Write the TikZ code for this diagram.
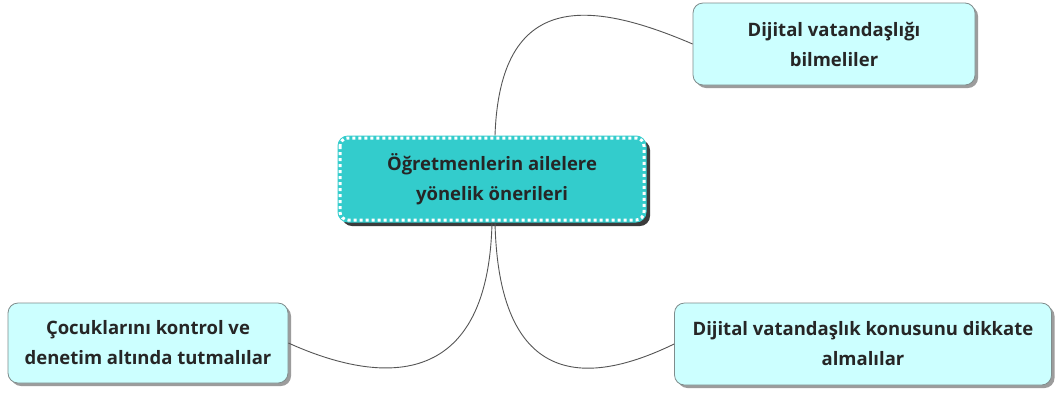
\documentclass[tikz,border=0pt]{standalone}
\usepackage{fontspec}
\setmainfont{Open Sans}
\usetikzlibrary{shadows}
\definecolor{teal1}{HTML}{33CCCC}
\definecolor{lightc}{HTML}{CCFFFF}
\definecolor{bordg}{HTML}{7F8C8C}
\definecolor{linkg}{HTML}{555555}
\tikzset{
  leafbox/.style={rectangle, rounded corners=10pt, fill=lightc, draw=bordg, line width=0.8pt,
    align=center, font=\fontsize{18.5}{30}\selectfont\bfseries, text=black!85,
    drop shadow={shadow xshift=3pt, shadow yshift=-3pt, fill=black!55, opacity=0.7}},
  centerbox/.style={rectangle, rounded corners=10pt, fill=teal1, draw=teal1, line width=1pt,
    align=center, font=\fontsize{18.5}{30}\selectfont\bfseries, text=black!85,
    drop shadow={shadow xshift=4pt, shadow yshift=-4pt, fill=black!85, opacity=0.9}},
  dotrim/.style={draw=white, line width=3pt, dash pattern=on 3pt off 3pt, rounded corners=8pt},
  link/.style={draw=linkg, line width=0.9pt}
}
\begin{document}
\begin{tikzpicture}[x=1pt,y=-1pt]
\useasboundingbox (0,0) rectangle (1059,392);
\fill[white] (0,0) rectangle (1059,392);
\node[centerbox, minimum width=308pt, minimum height=86pt] (c) at (492,179) {Öğretmenlerin ailelere\\yönelik önerileri};
\draw[dotrim] ([shift={(2.5,2.5)}]c.north west) rectangle ([shift={(-2.5,-2.5)}]c.south east);
\node[leafbox, minimum width=282pt, minimum height=82pt] (tr) at (834,44) {Dijital vatandaşlığı\\bilmeliler};
\node[leafbox, minimum width=280pt, minimum height=80pt] (bl) at (148,343) {Çocuklarını kontrol ve\\denetim altında tutmalılar};
\node[leafbox, minimum width=377pt, minimum height=82pt] (br) at (863,344) {Dijital vatandaşlık konusunu dikkate\\almalılar};
\draw[link] ([xshift=3pt]c.north) .. controls (500,-10) and (590,0) .. (tr.west);
\draw[link] ([xshift=0pt]c.south) .. controls (488,400) and (370,380) .. (bl.east);
\draw[link] ([xshift=3pt]c.south) .. controls (499,400) and (600,380) .. (br.west);
\end{tikzpicture}
\end{document}
